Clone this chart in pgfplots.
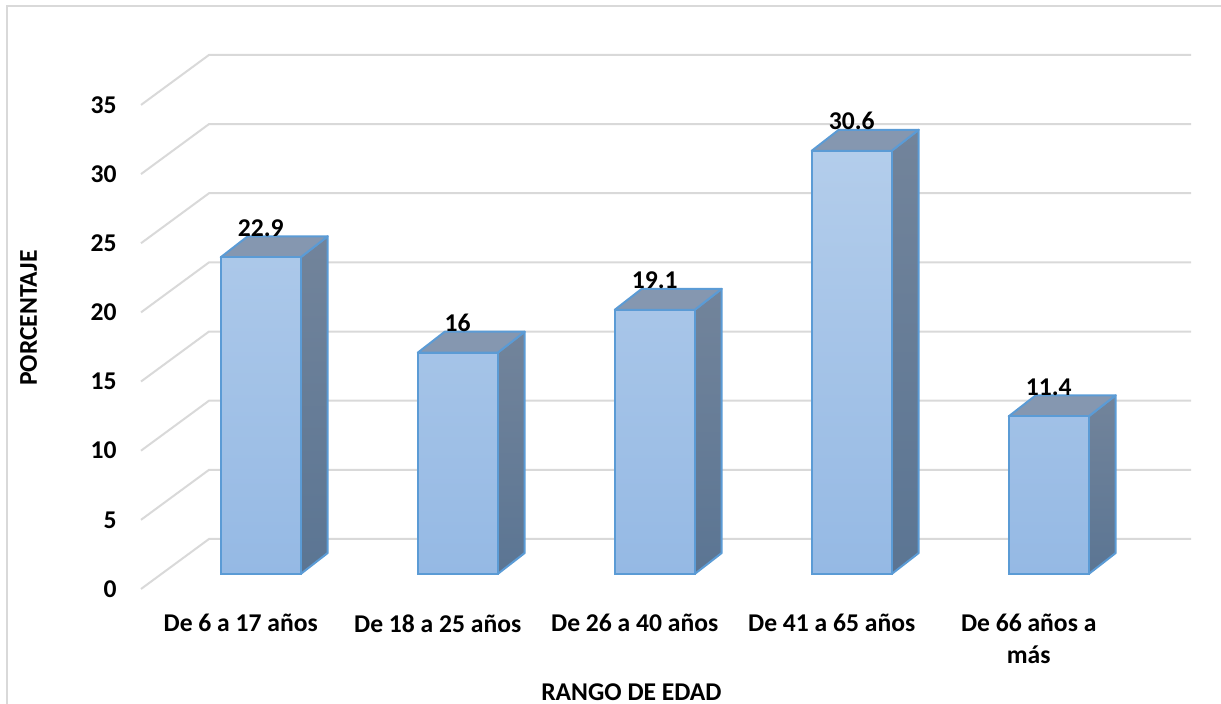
\documentclass[border=0pt]{standalone}
\usepackage{pgfplots}
\pgfplotsset{compat=1.18}
\usepackage{pgfplotstable}
\usepackage{fontspec}
\setmainfont{Carlito}

\definecolor{gridc}{HTML}{D9D9D9}
\definecolor{barline}{HTML}{5B9BD5}
\definecolor{frontTop}{HTML}{B3CDEB}
\definecolor{frontBot}{HTML}{95B9E4}
\definecolor{sideTop}{HTML}{72849B}
\definecolor{sideBot}{HTML}{5B7593}
\definecolor{topFace}{HTML}{8597B0}

% share of people per age range (%)
\pgfplotstableread{
x v
0 22.9
1 16
2 19.1
3 30.6
4 11.4
}\bars

% bar half width and the depth offset of the 3D faces (axis units)
\def\hw{0.2030}
\def\bdx{0.1371}
\def\bdy{1.518}

\tikzset{
  sideface/.style={draw=barline, line width=1pt, top color=sideTop, bottom color=sideBot, line join=round},
  topface/.style={draw=barline, line width=1pt, fill=topFace, line join=round},
}

% one gridline: floor diagonal plus line along the back wall
\newcommand\wallline[1]{%
  \pgfmathsetmacro\ya{#1-1.0846}%
  \pgfmathsetmacro\yb{#1+2.531}%
  \edef\tmp{\noexpand\addplot[gridc, line width=1pt] coordinates {(-0.6076,\ya) (-0.2624,\yb) (4.7223,\yb)};}%
  \tmp}

% side and top faces of the bar in row #1
\newcommand\barfaces[1]{%
  \pgfplotstablegetelem{#1}{v}\of\bars
  \pgfmathsetmacro\bv{\pgfplotsretval}%
  \pgfmathsetmacro\xl{#1-\hw}%
  \pgfmathsetmacro\xr{#1+\hw}%
  \pgfmathsetmacro\xlb{\xl+\bdx}%
  \pgfmathsetmacro\xrb{\xr+\bdx}%
  \pgfmathsetmacro\bvb{\bv+\bdy}%
  \edef\tmp{%
    \noexpand\addplot[sideface] coordinates {(\xr,0) (\xrb,\bdy) (\xrb,\bvb) (\xr,\bv)} -- cycle;%
    \noexpand\addplot[topface] coordinates {(\xl,\bv) (\xr,\bv) (\xrb,\bvb) (\xlb,\bvb)} -- cycle;%
  }\tmp}

\begin{document}
\begin{tikzpicture}
\useasboundingbox (0,0) rectangle (610.5pt,352pt);
\draw[gridc, line width=0.75pt] (3.5pt,-5pt) rectangle (620pt,349pt);
\begin{axis}[
  at={(130.35pt,65pt)}, anchor=origin,
  x=98.5pt, y=6.915pt,
  xmin=-0.6076, xmax=4.75, ymin=-1.1, ymax=38,
  clip=false,
  axis line style={draw=none},
  tick style={draw=none}, major tick length=0pt,
  ytick={0,5,10,15,20,25,30,35},
  xtick={0,1,2,3,4},
  xticklabels={De 6 a 17 años, De 18 a 25 años, De 26 a 40 años, De 41 a 65 años, {De 66 años a\\más}},
  ticklabel style={font=\bfseries\fontsize{12.8}{16}\selectfont, text=black},
  yticklabel style={anchor=east, inner sep=0pt, xshift=-12pt, yshift=-7.5pt},
  xticklabel style={anchor=north, inner sep=0pt, align=center, xshift=-10pt, yshift=-12.4pt},
  /pgf/number format/assume math mode=true,
]
\pgfplotsinvokeforeach{0,5,10,15,20,25,30,35}{\wallline{#1}}
\pgfplotsinvokeforeach{0,1,2,3,4}{\barfaces{#1}}
\addplot[ybar, bar width=40pt, draw=barline, line width=1pt,
  top color=frontTop, bottom color=frontBot,
  nodes near coords,
  every node near coord/.append style={font=\bfseries\fontsize{12.8}{16}\selectfont, text=black, anchor=base, yshift=10.5pt, inner sep=0pt}]
  table[x=x, y=v]{\bars};
\node[font=\bfseries\fontsize{12.8}{16}\selectfont] at (axis cs:1.882,-8.53) {RANGO DE EDAD};
\node[font=\bfseries\fontsize{12.8}{16}\selectfont, rotate=90] at (axis cs:-1.1787,18.51) {PORCENTAJE};
\end{axis}
\end{tikzpicture}
\end{document}
